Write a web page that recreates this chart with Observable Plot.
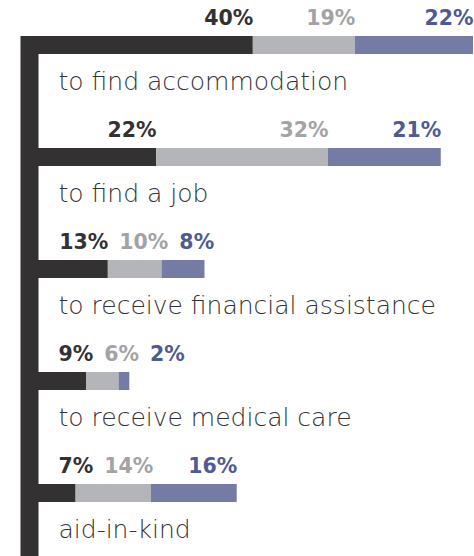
<!DOCTYPE html>
<html><head><meta charset="utf-8">
<script src="https://cdn.jsdelivr.net/npm/d3@7"></script>
<script src="https://cdn.jsdelivr.net/npm/@observablehq/plot@0.6"></script>
<style>body{margin:0;background:#fff}</style>
</head><body><div id="chart"></div>
<script>
const categories = ["to find accommodation","to find a job","to receive financial assistance","to receive medical care","aid-in-kind"];
const firstShare = [40,22,13,9,7];
const secondShare = [19,32,10,6,14];
const thirdShare = [22,21,8,2,16];
const seriesNames = ["first","second","third"];
const seriesValues = [firstShare, secondShare, thirdShare];
const barColors = ["#333132","#b4b5b9","#747ca5"];
const labelColors = ["#333132","#a3a3a6","#505a92"];

const rows = categories.flatMap((c,i)=> seriesNames.map((s,j)=>({category:c, series:s, value: seriesValues[j][i]})));

const W=474,H=556, mL=38, mR=1, mT=36;
const xDomain=[0,81];
const xs = Plot.scale({x:{domain:xDomain, range:[mL, W-mR]}});
const labelSize = 20.5;
const ctx = document.createElement("canvas").getContext("2d");
ctx.font = `bold ${labelSize}px "DejaVu Sans"`;
const labels = [];
categories.forEach((c,i)=>{
  let cum=0, prevRight=null;
  seriesNames.forEach((s,j)=>{
    const v = seriesValues[j][i];
    cum += v;
    const text = v+"%";
    const w = ctx.measureText(text).width;
    let right = xs.apply(cum);
    const minLeft = prevRight==null ? xs.apply(0)+20 : prevRight+11;
    if (right - w < minLeft) right = minLeft + w;
    prevRight = right;
    labels.push({category:c, series:s, text, x: xs.invert(right)});
  });
});

const chart = Plot.plot({
  width:W, height:H, marginLeft:mL, marginRight:mR, marginTop:mT, marginBottom:0,
  x:{domain:xDomain, axis:null},
  y:{type:"band", domain:categories, paddingInner:0.836, paddingOuter:0.219, align:0, axis:null},
  color:{domain:seriesNames, range:barColors},
  style:{fontFamily:'"DejaVu Sans", sans-serif', background:"#fff"},
  marks:[
    Plot.barX(rows, {x:"value", y:"category", fill:"series"}),
    Plot.ruleX([0], {stroke:"#333132", strokeWidth:18, dx:-9}),
    ...seriesNames.map((s,j)=>Plot.text(labels.filter(d=>d.series===s), {
      x:"x", y:"category", text:"text", textAnchor:"end", lineAnchor:"bottom",
      dy:-20.25, fontSize:labelSize, fontWeight:"bold", fill:labelColors[j]})),
    Plot.text(categories, {x:()=>0, y:d=>d, text:d=>d, dx:20, dy:44, textAnchor:"start",
      lineAnchor:"bottom", fontSize:25, fontWeight:300, fill:"#333333"})
  ]
});
document.getElementById("chart").appendChild(chart);
</script>
</body></html>
